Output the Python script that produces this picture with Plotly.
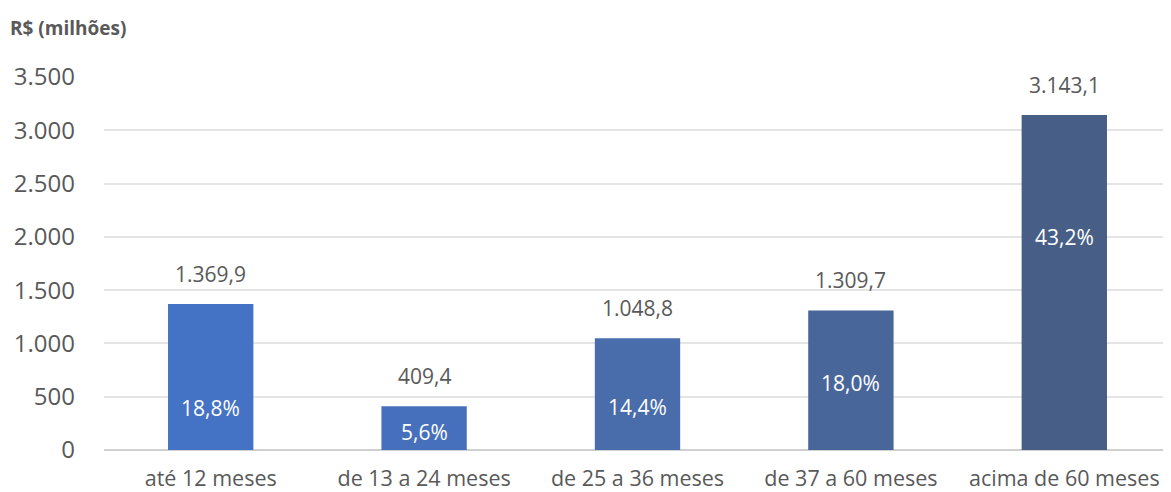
import plotly.graph_objects as go

categories = ["até 12 meses", "de 13 a 24 meses", "de 25 a 36 meses", "de 37 a 60 meses", "acima de 60 meses"]
values = [1369.9, 409.4, 1048.8, 1309.7, 3143.1]
value_labels = ["1.369,9", "409,4", "1.048,8", "1.309,7", "3.143,1"]
pct_labels = ["18,8%", "5,6%", "14,4%", "18,0%", "43,2%"]
pct_label_y = [394, 169, 403, 628, 1998]
bar_colors = ["#4472C4", "#4670BC", "#496CAA", "#49669A", "#475F86"]

fig = go.Figure()
fig.add_trace(go.Bar(
    x=categories, y=values, marker=dict(color=bar_colors, line=dict(width=0)),
    width=0.4, hoverinfo="skip",
))
for c, v, t in zip(categories, values, value_labels):
    fig.add_annotation(x=c, y=v, text=t, showarrow=False, yanchor="bottom", yshift=14,
                       font=dict(size=21, color="#595959", family="Open Sans"))
for c, t, yy in zip(categories, pct_labels, pct_label_y):
    fig.add_annotation(x=c, y=yy, text=t, showarrow=False,
                       font=dict(size=21, color="white", family="Open Sans"))

fig.add_annotation(xref="paper", yref="paper", x=-0.09, y=1.131, xanchor="left", yanchor="middle",
                   text="<b>R$ (milhões)</b>", showarrow=False,
                   font=dict(size=19, color="#595959", family="Open Sans"))

fig.update_layout(
    width=1163, height=484, margin=dict(l=96, r=0, t=69, b=42),
    plot_bgcolor="white", paper_bgcolor="white", separators=",.",
    showlegend=False,
    font=dict(family="Open Sans", color="#595959"),
)
fig.update_yaxes(range=[0, 3500], dtick=500, tickformat=",d", showgrid=True, gridcolor="#E4E4E4",
                 gridwidth=1.5, zeroline=True, zerolinecolor="#D0D0D0", zerolinewidth=1.5,
                 tickfont=dict(size=24, color="#595959"), ticklabelstandoff=28, showline=False,
                 automargin=False)
fig.update_xaxes(tickfont=dict(size=21.5, color="#595959"), showline=False, ticks="",
                 ticklabelstandoff=13, automargin=False)
fig.write_html("out.html")
